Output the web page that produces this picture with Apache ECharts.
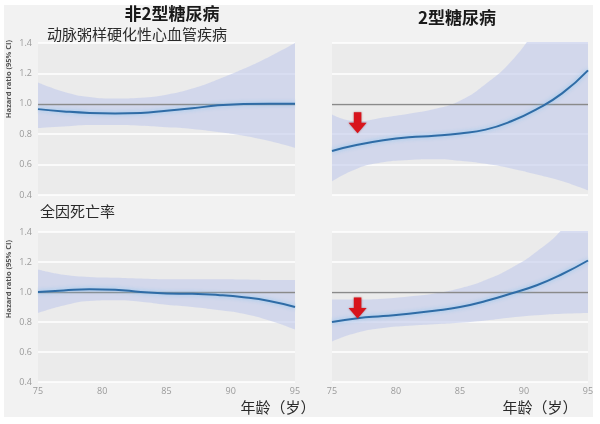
<!DOCTYPE html>
<html>
<head>
<meta charset="utf-8">
<script src="https://cdn.jsdelivr.net/npm/echarts@6/dist/echarts.min.js"></script>
<style>
html,body{margin:0;padding:0;background:#ffffff;}
#bg{position:absolute;left:4px;top:5px;width:589px;height:412px;background:#f2f2f2;}
#c{position:absolute;left:0;top:0;width:600px;height:424px;}
</style>
</head>
<body>
<div id="bg"></div>
<div id="c"></div>
<script>
// ---- data ----
const ages = [75, 77, 79, 81, 83, 85, 87, 89, 91, 93, 95];
const xTicks = [75, 80, 85, 90, 95];
const yTicks = [0.4, 0.6, 0.8, 1.0, 1.2, 1.4];

// Panel A: non-T2D, ASCVD
const nonT2dAscvdHR    = [0.965, 0.95, 0.94, 0.937, 0.94, 0.955, 0.97, 0.99, 0.998, 1.0, 1.0];
const nonT2dAscvdLower = [0.84, 0.85, 0.86, 0.86, 0.855, 0.845, 0.835, 0.815, 0.79, 0.755, 0.71];
const nonT2dAscvdUpper = [1.14, 1.08, 1.045, 1.035, 1.04, 1.06, 1.10, 1.16, 1.23, 1.31, 1.40];

// Panel B: T2D, ASCVD
const t2dAscvdHR    = [0.69, 0.73, 0.76, 0.78, 0.79, 0.805, 0.83, 0.885, 0.965, 1.07, 1.22];
const t2dAscvdLower = [0.49, 0.575, 0.615, 0.63, 0.635, 0.625, 0.605, 0.575, 0.535, 0.49, 0.43];
const t2dAscvdUpper = [0.93, 0.885, 0.91, 0.935, 0.965, 1.02, 1.13, 1.28, 1.5, 1.75, 2.0];

// Panel C: non-T2D, all-cause mortality
const nonT2dMortHR    = [1.0, 1.01, 1.018, 1.015, 1.0, 0.99, 0.988, 0.98, 0.965, 0.94, 0.90];
const nonT2dMortLower = [0.86, 0.91, 0.94, 0.945, 0.935, 0.915, 0.90, 0.88, 0.855, 0.81, 0.75];
const nonT2dMortUpper = [1.15, 1.115, 1.10, 1.095, 1.09, 1.085, 1.085, 1.085, 1.083, 1.08, 1.08];

// Panel D: T2D, all-cause mortality
const t2dMortHR    = [0.80, 0.825, 0.84, 0.855, 0.875, 0.90, 0.94, 0.99, 1.045, 1.12, 1.21];
const t2dMortLower = [0.67, 0.73, 0.76, 0.775, 0.785, 0.795, 0.81, 0.83, 0.845, 0.855, 0.86];
const t2dMortUpper = [0.95, 0.95, 0.955, 0.97, 0.99, 1.025, 1.08, 1.16, 1.27, 1.42, 1.65];

// arrows (age, HR) in T2D panels
const arrowAscvd = [77, 0.875];
const arrowMort  = [77, 0.893];

const colTitles = ['非2型糖尿病', '2型糖尿病'];
const rowTitles = ['动脉粥样硬化性心血管疾病', '全因死亡率'];
const xName = '年龄（岁）';
const yName = 'Hazard ratio (95% CI)';

const panels = [
  {hr: nonT2dAscvdHR, lo: nonT2dAscvdLower, up: nonT2dAscvdUpper, arrow: null},
  {hr: t2dAscvdHR, lo: t2dAscvdLower, up: t2dAscvdUpper, arrow: arrowAscvd},
  {hr: nonT2dMortHR, lo: nonT2dMortLower, up: nonT2dMortUpper, arrow: null},
  {hr: t2dMortHR, lo: t2dMortLower, up: t2dMortUpper, arrow: arrowMort}
];

const grids = [
  {left: 38, top: 43, width: 257, height: 152},
  {left: 332, top: 43, width: 256, height: 152},
  {left: 38, top: 232, width: 257, height: 150},
  {left: 332, top: 232, width: 256, height: 150}
].map(g => Object.assign(g, {show: true, backgroundColor: '#ebebeb', borderWidth: 0, containLabel: false}));

// visible value axes (0..3) for ticks/labels
const xAxes = grids.map((g, i) => ({
  type: 'value', gridIndex: i, min: xTicks[0], max: xTicks[xTicks.length - 1], interval: 5,
  axisLine: {show: false}, axisTick: {show: false}, splitLine: {show: false},
  axisLabel: {show: i >= 2, color: '#9a9a9a', fontSize: 9, margin: 5, fontFamily: 'Open Sans'}
}));
// hidden category axes (4..7) over the same evenly spaced ages, used for stacked bands
grids.forEach((g, i) => xAxes.push({
  type: 'category', gridIndex: i, data: ages.map(String), boundaryGap: false, show: false
}));

const yAxes = grids.map((g, i) => ({
  type: 'value', gridIndex: i, min: yTicks[0], max: yTicks[yTicks.length - 1], interval: 0.2,
  axisLine: {show: false}, axisTick: {show: false},
  splitLine: {show: true, lineStyle: {color: '#ffffff', width: 1.6}},
  axisLabel: {show: i % 2 === 0, color: '#9a9a9a', fontSize: 9, margin: 6, fontFamily: 'Open Sans',
    formatter: v => v.toFixed(1)}
}));

const arrowPath = 'path://M3.5,0 L8.5,0 L8.5,7 L12,7 L6,14 L0,7 L3.5,7 Z';

const series = [];
panels.forEach((p, i) => {
  series.push({
    type: 'line', xAxisIndex: 4 + i, yAxisIndex: i, stack: 'band' + i, smooth: true, symbol: 'none',
    silent: true, lineStyle: {opacity: 0}, z: 2,
    data: p.lo.slice()
  });
  series.push({
    type: 'line', xAxisIndex: 4 + i, yAxisIndex: i, stack: 'band' + i, smooth: true, symbol: 'none',
    silent: true, lineStyle: {opacity: 0}, z: 2,
    areaStyle: {color: 'rgba(196,204,236,0.62)', opacity: 1},
    data: p.up.map((u, k) => +(u - p.lo[k]).toFixed(4))
  });
  const s = {
    type: 'line', xAxisIndex: i, yAxisIndex: i, smooth: true, symbol: 'none', z: 4,
    lineStyle: {color: '#2f6ca6', width: 2, shadowColor: 'rgba(130,195,240,0.9)', shadowBlur: 4},
    data: ages.map((a, k) => [a, p.hr[k]]),
    markLine: {
      silent: true, symbol: 'none', label: {show: false},
      lineStyle: {color: '#8a8a8a', width: 1.4, type: 'solid'},
      data: [{yAxis: 1.0}], z: 3
    }
  };
  if (p.arrow) {
    s.markPoint = {
      silent: true, symbol: arrowPath, symbolSize: [18, 21],
      itemStyle: {color: '#d8141c', shadowColor: 'rgba(120,0,0,0.5)', shadowBlur: 2},
      label: {show: false},
      data: [{coord: p.arrow}]
    };
  }
  series.push(s);
});

const cjk = '"Noto Sans CJK SC", sans-serif';
const graphic = [
  {type: 'text', x: 172, y: 14, style: {text: colTitles[0], font: 'bold 17px ' + cjk, fill: '#1a1a1a', textAlign: 'center', textVerticalAlign: 'middle'}},
  {type: 'text', x: 457, y: 18, style: {text: colTitles[1], font: 'bold 17px ' + cjk, fill: '#1a1a1a', textAlign: 'center', textVerticalAlign: 'middle'}},
  {type: 'text', x: 47, y: 34, style: {text: rowTitles[0], font: '15px ' + cjk, fill: '#2a2a2a', textAlign: 'left', textVerticalAlign: 'middle'}},
  {type: 'text', x: 40, y: 211, style: {text: rowTitles[1], font: '15px ' + cjk, fill: '#2a2a2a', textAlign: 'left', textVerticalAlign: 'middle'}},
  {type: 'text', x: 278, y: 407, style: {text: xName, font: '15px ' + cjk, fill: '#2a2a2a', textAlign: 'center', textVerticalAlign: 'middle'}},
  {type: 'text', x: 540, y: 407, style: {text: xName, font: '15px ' + cjk, fill: '#2a2a2a', textAlign: 'center', textVerticalAlign: 'middle'}},
  {type: 'text', x: 9, y: 79, rotation: Math.PI / 2, style: {text: yName, font: 'bold 7.5px "Open Sans", sans-serif', fill: '#555', textAlign: 'center', textVerticalAlign: 'middle'}},
  {type: 'text', x: 9, y: 279, rotation: Math.PI / 2, style: {text: yName, font: 'bold 7.5px "Open Sans", sans-serif', fill: '#555', textAlign: 'center', textVerticalAlign: 'middle'}}
];

const chart = echarts.init(document.getElementById('c'), null, {renderer: 'canvas'});
chart.setOption({
  backgroundColor: 'transparent',
  animation: false,
  grid: grids,
  xAxis: xAxes,
  yAxis: yAxes,
  series: series,
  graphic: graphic
});
</script>
</body>
</html>
